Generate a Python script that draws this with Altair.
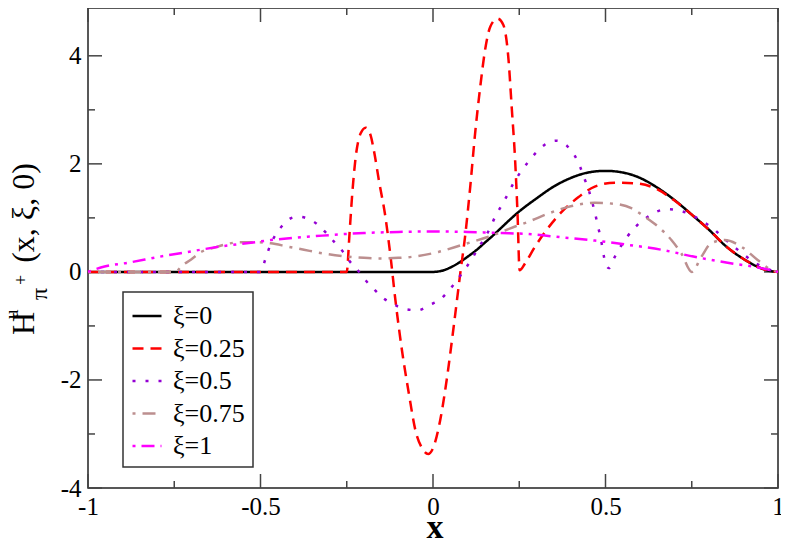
import altair as alt
import pandas as pd

# ---------------- data ----------------
series_names = ["ξ=0", "ξ=0.25", "ξ=0.5", "ξ=0.75", "ξ=1"]
series_colors = ["#000000", "#ff0000", "#9400d3", "#bc8f8f", "#ff00ff"]
series_dashes = [[1, 0], [11, 7], [3, 10], [3, 7, 13, 7], [3, 6, 13, 6, 3, 6]]

x_xi0 = [-1, 0, 0.025, 0.05, 0.075, 0.1, 0.125, 0.15, 0.175, 0.2, 0.225, 0.25, 0.3,
         0.35, 0.4, 0.45, 0.5, 0.55, 0.6, 0.65, 0.7, 0.75, 0.8, 0.85, 0.9, 0.95, 0.975, 1]
y_xi0 = [0, 0, 0.02, 0.08, 0.17, 0.28, 0.40, 0.54, 0.68, 0.83, 0.98, 1.12, 1.36,
         1.58, 1.74, 1.84, 1.87, 1.84, 1.74, 1.56, 1.33, 1.06, 0.78, 0.47, 0.24, 0.07, 0.02, 0]

x_xi025 = [-1, -0.25, -0.242, -0.234, -0.224, -0.21, -0.195, -0.181, -0.17, -0.157, -0.138,
           -0.123, -0.109, -0.09, -0.07, -0.051, -0.032, -0.014, 0.002, 0.021, 0.041, 0.06,
           0.079, 0.094, 0.108, 0.122, 0.137, 0.151, 0.166, 0.187, 0.204, 0.219, 0.228,
           0.238, 0.245, 0.251, 0.267, 0.296, 0.325, 0.373, 0.421, 0.469, 0.527, 0.585,
           0.643, 0.7, 0.75, 0.8, 0.85, 0.9, 0.95, 0.975, 1]
y_xi025 = [0, 0, 0.71, 1.45, 2.13, 2.56, 2.67, 2.53, 2.2, 1.70, 1.02,
           0.28, -0.52, -1.45, -2.25, -2.93, -3.26, -3.37, -3.23, -2.74, -1.94, -1.01,
           -0.03, 0.71, 1.58, 2.56, 3.43, 4.11, 4.54, 4.69, 4.57, 3.92, 3.06,
           2.07, 1.08, 0.03, 0.16, 0.47, 0.74, 1.11, 1.38, 1.58, 1.65, 1.64,
           1.55, 1.32, 1.06, 0.78, 0.47, 0.24, 0.07, 0.02, 0]

x_xi05 = [-1, -0.5, -0.496, -0.484, -0.472, -0.455, -0.433, -0.405, -0.387, -0.369, -0.337,
          -0.311, -0.287, -0.263, -0.242, -0.217, -0.195, -0.171, -0.145, -0.114, -0.08,
          -0.043, -0.01, 0.019, 0.045, 0.069, 0.089, 0.111, 0.129, 0.149, 0.166, 0.18,
          0.198, 0.217, 0.233, 0.253, 0.274, 0.296, 0.323, 0.357, 0.389, 0.412, 0.426,
          0.44, 0.452, 0.462, 0.471, 0.479, 0.487, 0.493, 0.5, 0.51, 0.527, 0.544, 0.564,
          0.588, 0.614, 0.646, 0.681, 0.717, 0.751, 0.782, 0.811, 0.838, 0.866, 0.893,
          0.922, 0.95, 0.975, 1]
y_xi05 = [0, 0, 0.05, 0.27, 0.49, 0.70, 0.88, 1.01, 1.02, 1.00, 0.89,
          0.73, 0.56, 0.39, 0.20, 0.02, -0.16, -0.32, -0.48, -0.60, -0.69,
          -0.71, -0.61, -0.52, -0.35, -0.16, 0.02, 0.22, 0.42, 0.62, 0.82, 1.02,
          1.22, 1.44, 1.64, 1.84, 2.02, 2.19, 2.35, 2.43, 2.33, 2.14, 1.95,
          1.71, 1.50, 1.28, 1.05, 0.82, 0.60, 0.37, 0.16, 0.07, 0.28, 0.47, 0.66,
          0.84, 0.98, 1.11, 1.16, 1.13, 1.05, 0.93, 0.81, 0.65, 0.50, 0.36,
          0.22, 0.11, 0.04, 0]

x_xi075 = [-1, -0.75, -0.74, -0.73, -0.701, -0.672, -0.634, -0.595, -0.557, -0.518, -0.47,
           -0.422, -0.374, -0.316, -0.258, -0.2, -0.157, -0.1, -0.06, 0.016, 0.084, 0.161,
           0.238, 0.277, 0.334, 0.402, 0.469, 0.527, 0.575, 0.614, 0.652, 0.691, 0.72,
           0.75, 0.778, 0.806, 0.845, 0.893, 0.941, 0.98, 1]
y_xi075 = [0, 0, 0.03, 0.10, 0.23, 0.37, 0.45, 0.52, 0.55, 0.55, 0.53,
           0.47, 0.41, 0.34, 0.29, 0.26, 0.25, 0.26, 0.28, 0.37, 0.50, 0.65,
           0.84, 0.93, 1.08, 1.22, 1.28, 1.26, 1.18, 1.02, 0.84, 0.59, 0.34,
           0.0, 0.28, 0.53, 0.59, 0.47, 0.22, 0.04, 0]

x_xi1 = [-1, -0.952, -0.884, -0.793, -0.72, -0.605, -0.528, -0.47, -0.408, -0.345, -0.258,
         -0.2, -0.1, 0, 0.1, 0.2, 0.277, 0.373, 0.469, 0.566, 0.662, 0.758, 0.854, 0.952, 1]
y_xi1 = [0, 0.10, 0.17, 0.28, 0.36, 0.48, 0.54, 0.59, 0.63, 0.66, 0.70,
         0.72, 0.74, 0.75, 0.74, 0.72, 0.70, 0.64, 0.58, 0.50, 0.41, 0.28, 0.17, 0.07, 0]

x_ticks_major = [-1, -0.5, 0, 0.5, 1]
x_ticks_minor = [-0.75, -0.25, 0.25, 0.75]
y_ticks_major = [-4, -2, 0, 2, 4]
y_ticks_minor = [-3, -1, 1, 3]

# ---------------- build table ----------------
xs_all = [x_xi0, x_xi025, x_xi05, x_xi075, x_xi1]
ys_all = [y_xi0, y_xi025, y_xi05, y_xi075, y_xi1]
rows = []
for name, xs, ys in zip(series_names, xs_all, ys_all):
    for a, b in zip(xs, ys):
        rows.append({"s": name, "x": a, "y": b})
df = pd.DataFrame(rows)

W, H = 690, 480
SERIF = "Liberation Serif"

xsc = alt.Scale(domain=[-1, 1], nice=False, zero=False)
ysc = alt.Scale(domain=[-4, 4.885], nice=False, zero=False)

x_axis = alt.Axis(values=x_ticks_major, labelExpr="datum.value + ''", title=None,
                  labelPadding=6, ticks=False, domain=False, grid=False,
                  labelFlush=False, labelOverlap=False)
y_axis = alt.Axis(values=y_ticks_major, labelExpr="datum.value + ''", title=None,
                  labelPadding=7, ticks=False, domain=False, grid=False,
                  labelFlush=False, labelOverlap=False)

legend_kw = dict(title=None, orient="none", legendX=35, legendY=284,
                 symbolType="stroke", symbolSize=841, symbolStrokeWidth=2.5,
                 labelFont=SERIF, labelFontSize=26, labelColor="black",
                 labelOffset=10, rowPadding=3.5, padding=8,
                 strokeColor="#333333", fillColor="white")

lines = alt.Chart(df).mark_line(strokeWidth=2.5, interpolate="monotone").encode(
    x=alt.X("x:Q", scale=xsc, axis=x_axis),
    y=alt.Y("y:Q", scale=ysc, axis=y_axis),
    color=alt.Color("s:N", scale=alt.Scale(domain=series_names, range=series_colors),
                    legend=alt.Legend(**legend_kw)),
    strokeDash=alt.StrokeDash("s:N", scale=alt.Scale(domain=series_names, range=series_dashes),
                              legend=alt.Legend(**legend_kw)),
)

TICK_COLOR = "#444444"


def xtick_layer(vals, length, top):
    d = pd.DataFrame({"x": vals})
    base = alt.Chart(d).mark_rule(color=TICK_COLOR, strokeWidth=1.5)
    if top:
        return base.encode(x=alt.X("x:Q", scale=xsc, axis=x_axis),
                           y=alt.value(0), y2=alt.value(length))
    return base.encode(x=alt.X("x:Q", scale=xsc, axis=x_axis),
                       y=alt.value(H), y2=alt.value(H - length))


def ytick_layer(vals, length, right):
    d = pd.DataFrame({"y": vals})
    base = alt.Chart(d).mark_rule(color=TICK_COLOR, strokeWidth=1.5)
    if right:
        return base.encode(y=alt.Y("y:Q", scale=ysc, axis=y_axis),
                           x=alt.value(W), x2=alt.value(W - length))
    return base.encode(y=alt.Y("y:Q", scale=ysc, axis=y_axis),
                       x=alt.value(0), x2=alt.value(length))


ticks = [
    xtick_layer(x_ticks_major, 14, False), xtick_layer(x_ticks_minor, 7, False),
    xtick_layer(x_ticks_major, 14, True), xtick_layer(x_ticks_minor, 7, True),
    ytick_layer(y_ticks_major, 14, False), ytick_layer(y_ticks_minor, 7, False),
    ytick_layer(y_ticks_major, 14, True), ytick_layer(y_ticks_minor, 7, True),
]

one = pd.DataFrame({"a": [0]})


def label(text, size, x, y, angle=0, align="left", baseline="alphabetic", weight="normal"):
    return alt.Chart(one).mark_text(
        text=text, font=SERIF, fontSize=size, fontWeight=weight, color="black",
        angle=angle, align=align, baseline=baseline,
    ).encode(x=alt.value(x), y=alt.value(y))


ytitle = [
    label("H", 32, -54, 327, angle=270),
    label("u", 19, -70, 311, angle=270),
    label("π", 24, -41, 292, angle=270),
    label("+", 18, -61, 277, angle=270),
    label("(x, ξ, 0)", 32, -54, 205, angle=270, align="center"),
]
xtitle = label("x", 34, 347, 530, align="center", weight="bold")

chart = alt.layer(*ticks, lines, *ytitle, xtitle).properties(
    width=W, height=H,
    autosize=alt.AutoSizeParams(type="none"),
    padding={"left": 80, "top": 0, "right": 3, "bottom": 52},
).configure_view(
    stroke="#222222", strokeWidth=1.5
).configure_axis(
    grid=False, domain=False, ticks=False, labelFont=SERIF, labelFontSize=25,
    labelColor="black"
).configure_legend(
    strokeWidth=1.5
)

chart.save("out.html", embed_options={"renderer": "svg", "actions": False})
